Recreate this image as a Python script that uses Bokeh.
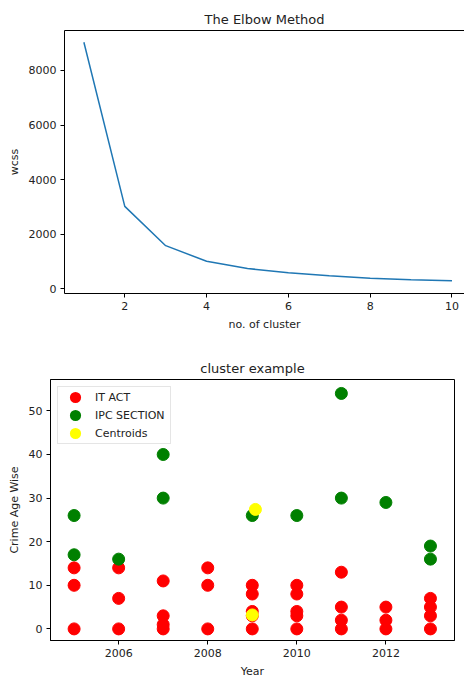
from bokeh.plotting import figure
from bokeh.models import Range1d, FixedTicker, LinearAxis
from bokeh.embed import file_html
from bokeh.resources import INLINE

# ---- Elbow method data ----
clusters = [1, 2, 3, 4, 5, 6, 7, 8, 9, 10]
wcss = [9030, 3020, 1580, 1010, 745, 585, 475, 390, 330, 295]
elbow_xticks = [2, 4, 6, 8, 10]
elbow_yticks = [0, 2000, 4000, 6000, 8000]

# ---- Cluster example data ----
it_years = [2005, 2005, 2005,
            2006, 2006, 2006,
            2007, 2007, 2007, 2007,
            2008, 2008, 2008,
            2009, 2009, 2009, 2009, 2009,
            2010, 2010, 2010, 2010, 2010,
            2011, 2011, 2011, 2011,
            2012, 2012, 2012,
            2013, 2013, 2013, 2013]
it_values = [14, 10, 0,
             14, 7, 0,
             11, 3, 1, 0,
             14, 10, 0,
             10, 8, 4, 3, 0,
             10, 8, 4, 3, 0,
             13, 5, 2, 0,
             5, 2, 0,
             7, 5, 3, 0]
ipc_years = [2005, 2005, 2006, 2007, 2007, 2009, 2010, 2011, 2011, 2012, 2013, 2013]
ipc_values = [26, 17, 16, 40, 30, 26, 26, 54, 30, 29, 19, 16]
centroid_years = [2009.07, 2009.0]
centroid_values = [27.4, 3.2]
year_ticks = [2006, 2008, 2010, 2012]
age_ticks = [0, 10, 20, 30, 40, 50]

FONT = "DejaVu Sans"
TXT = "#222222"
NAN = float("nan")


def style_axis(ax):
    ax.axis_label_text_font = FONT
    ax.axis_label_text_font_size = "11px"
    ax.axis_label_text_font_style = "normal"
    ax.axis_label_text_color = TXT
    ax.major_label_text_font = FONT
    ax.major_label_text_font_size = "11px"
    ax.major_label_text_color = TXT
    ax.major_tick_in = 0
    ax.major_tick_out = 4
    ax.minor_tick_in = 0
    ax.minor_tick_out = 0
    ax.major_label_standoff = 4
    ax.axis_label_standoff = 5
    ax.axis_line_color = "black"
    ax.major_tick_line_color = "black"


def style(p, standoff):
    p.title.text_font = FONT
    p.title.text_font_size = "13px"
    p.title.text_font_style = "normal"
    p.title.text_color = TXT
    p.title.align = "center"
    p.title.standoff = standoff
    p.xgrid.visible = False
    p.ygrid.visible = False
    p.background_fill_color = "white"
    p.border_fill_color = "white"
    style_axis(p.xaxis[0])
    style_axis(p.yaxis[0])


# ---- Top figure (frame runs past the right edge, as in the cropped original) ----
p1 = figure(width=464, height=345, output_backend="svg", toolbar_location=None,
            title="The Elbow Method",
            x_range=Range1d(0.526, 10.306), y_range=Range1d(-172, 9462),
            min_border_left=64, min_border_right=0, min_border_top=30,
            min_border_bottom=52)
p1.line(clusters, wcss, line_color="#1f77b4", line_width=1.5)
p1.xaxis.axis_label = "no. of cluster"
p1.yaxis.axis_label = "wcss"
p1.xaxis.ticker = FixedTicker(ticks=elbow_xticks)
p1.yaxis.ticker = FixedTicker(ticks=elbow_yticks)
style(p1, 8)
p1.outline_line_color = None
top_edge = LinearAxis(ticker=FixedTicker(ticks=[]), major_label_text_font_size="0px",
                      major_tick_line_color=None, minor_tick_line_color=None,
                      axis_line_color="black")
p1.add_layout(top_edge, "above")

# ---- Bottom figure ----
p2 = figure(width=464, height=335, output_backend="svg", toolbar_location=None,
            title="cluster example",
            x_range=Range1d(2004.47, 2013.54), y_range=Range1d(-2.66, 57.2),
            min_border_left=50, min_border_right=10, min_border_top=34,
            min_border_bottom=37)
p2.scatter(it_years, it_values, size=12, fill_color="red", line_color="red")
p2.scatter(ipc_years, ipc_values, size=12, fill_color="green", line_color="green")
p2.scatter(centroid_years, centroid_values, size=12, fill_color="yellow",
           line_color="yellow")
# legend-only renderers (a single undrawn NaN point) so the legend markers are large
p2.scatter(x=[NAN], y=[NAN], fill_color="red", line_color="red", line_width=4,
           legend_label="IT ACT")
p2.scatter(x=[NAN], y=[NAN], fill_color="green", line_color="green", line_width=4,
           legend_label="IPC SECTION")
p2.scatter(x=[NAN], y=[NAN], fill_color="yellow", line_color="yellow", line_width=4,
           legend_label="Centroids")
p2.xaxis.axis_label = "Year"
p2.yaxis.axis_label = "Crime Age Wise"
p2.xaxis.ticker = FixedTicker(ticks=year_ticks)
p2.yaxis.ticker = FixedTicker(ticks=age_ticks)
style(p2, 7)
p2.outline_line_color = "black"
p2.outline_line_width = 1

lg = p2.legend[0]
lg.location = "top_left"
lg.margin = 7
lg.padding = dict(left=1, right=5, top=1, bottom=1)
lg.spacing = 0
lg.glyph_width = 32
lg.glyph_height = 18
lg.label_height = 18
lg.label_standoff = 4
lg.label_text_font = FONT
lg.label_text_font_size = "11px"
lg.label_text_color = TXT
lg.border_line_color = "#cccccc"
lg.border_line_width = 1
lg.background_fill_alpha = 0.8

open("out.html", "w").write(file_html([p1, p2], INLINE))
